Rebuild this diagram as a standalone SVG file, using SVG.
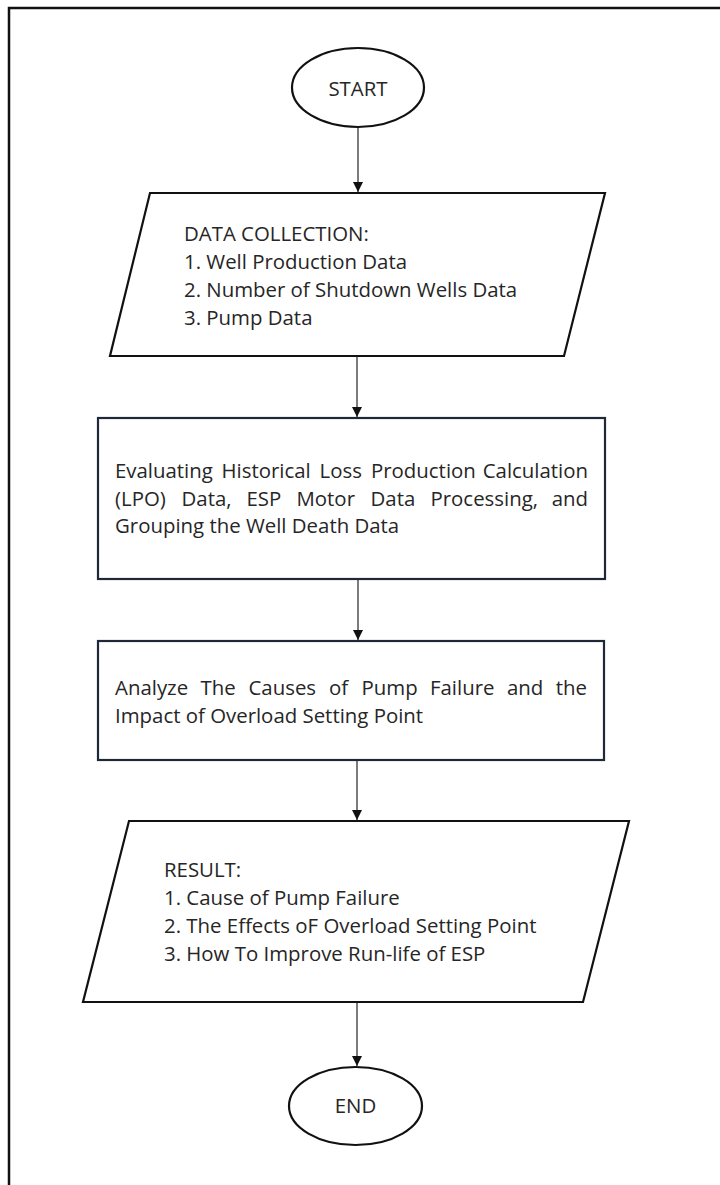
<svg xmlns="http://www.w3.org/2000/svg" width="720" height="1185" viewBox="0 0 720 1185">
  <style>
    .frame { fill: none; stroke: #111; stroke-width: 2.5; }
    .term { fill: #fff; stroke: #111; stroke-width: 2.2; }
    .io { fill: #fff; stroke: #111; stroke-width: 2.2; }
    .proc { fill: #fff; stroke: #1e2836; stroke-width: 2.2; }
    .conn { stroke: #444; stroke-width: 1.4; fill: none; }
    .lbl { font-family: "Open Sans", "Noto Sans", sans-serif; font-size: 20.4px; fill: #262626; }
    .mid { text-anchor: middle; }
  </style>
  <defs>
    <marker id="arrow" markerWidth="10" markerHeight="12" refX="10" refY="6" orient="auto" markerUnits="userSpaceOnUse">
      <path d="M0,1 L10,6 L0,11 Z" fill="#111"/>
    </marker>
  </defs>
  <rect width="720" height="1185" fill="#fff"/>
  <rect class="frame" x="9" y="8" width="740" height="1200"/>

  <g id="connectors">
    <line class="conn" x1="358" y1="127" x2="358" y2="192" marker-end="url(#arrow)"/>
    <line class="conn" x1="357" y1="356" x2="357" y2="417" marker-end="url(#arrow)"/>
    <line class="conn" x1="358" y1="579" x2="358" y2="640" marker-end="url(#arrow)"/>
    <line class="conn" x1="357" y1="760" x2="357" y2="820" marker-end="url(#arrow)"/>
    <line class="conn" x1="357" y1="1002" x2="357" y2="1066" marker-end="url(#arrow)"/>
  </g>

  <g id="start">
    <ellipse class="term" cx="358" cy="87.5" rx="66" ry="39.5"/>
    <text class="lbl mid" x="358" y="96">START</text>
  </g>

  <g id="data-collection">
    <polygon class="io" points="150,193 605,193 564,356 110,356"/>
    <text class="lbl" x="184" y="241">DATA COLLECTION:</text>
    <text class="lbl" x="184" y="269">1. Well Production Data</text>
    <text class="lbl" x="184" y="297">2. Number of Shutdown Wells Data</text>
    <text class="lbl" x="184" y="325">3. Pump Data</text>
  </g>

  <g id="evaluating">
    <rect class="proc" x="98" y="418" width="507" height="161"/>
    <text class="lbl" y="478"><tspan x="115">Evaluating</tspan> <tspan x="221.5">Historical</tspan> <tspan x="319.5">Loss</tspan> <tspan x="371">Production</tspan> <tspan x="588" text-anchor="end">Calculation</tspan></text>
    <text class="lbl" y="506"><tspan x="115">(LPO)</tspan> <tspan x="181.5">Data,</tspan> <tspan x="246.5">ESP</tspan> <tspan x="296.5">Motor</tspan> <tspan x="370.5">Data</tspan> <tspan x="430.5">Processing,</tspan> <tspan x="588" text-anchor="end">and</tspan></text>
    <text class="lbl" x="115" y="533">Grouping the Well Death Data</text>
  </g>

  <g id="analyze">
    <rect class="proc" x="98" y="641" width="506" height="119"/>
    <text class="lbl" y="695"><tspan x="115">Analyze</tspan> <tspan x="200.5">The</tspan> <tspan x="248.5">Causes</tspan> <tspan x="329">of</tspan> <tspan x="361.5">Pump</tspan> <tspan x="430">Failure</tspan> <tspan x="507">and</tspan> <tspan x="587" text-anchor="end">the</tspan></text>
    <text class="lbl" x="115" y="723">Impact of Overload Setting Point</text>
  </g>

  <g id="result">
    <polygon class="io" points="129,821 629,821 583,1002 83,1002"/>
    <text class="lbl" x="164" y="877">RESULT:</text>
    <text class="lbl" x="164" y="905">1. Cause of Pump Failure</text>
    <text class="lbl" x="164" y="933">2. The Effects oF Overload Setting Point</text>
    <text class="lbl" x="164" y="961">3. How To Improve Run-life of ESP</text>
  </g>

  <g id="end">
    <ellipse class="term" cx="355.5" cy="1106" rx="66.5" ry="39"/>
    <text class="lbl mid" x="355.5" y="1113">END</text>
  </g>
</svg>
